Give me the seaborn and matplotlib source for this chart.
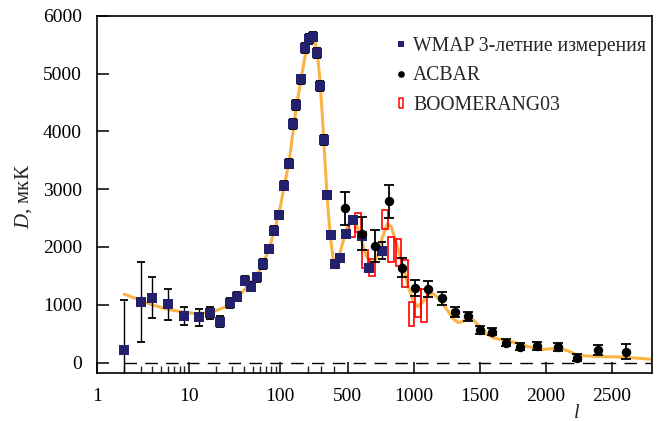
import numpy as np
import matplotlib
matplotlib.use('Agg')
import matplotlib.pyplot as plt
import seaborn as sns
from matplotlib.lines import Line2D
from matplotlib.ticker import FixedLocator, FixedFormatter

# ---------------- data ----------------
wmap_l = [2, 3, 4, 6, 9, 13, 17, 22, 28, 34, 41, 48, 56, 65, 75, 86, 97, 109, 124,
          138, 149, 168, 187, 205, 235, 268, 294, 318, 343, 375, 405, 438, 489, 540,
          608, 663, 758]
wmap_d = [220, 1045, 1125, 1010, 808, 785, 855, 710, 1027, 1142, 1419, 1315, 1477,
          1707, 1962, 2284, 2550, 3062, 3438, 4127, 4455, 4903, 5439, 5600, 5640,
          5353, 4787, 3853, 2901, 2209, 1707, 1806, 2226, 2469, 2192, 1644, 1935]
wmap_err = [870, 690, 360, 268, 160, 150, 105, 95, 90, 80, 80, 80, 80, 80, 70, 72,
            72, 75, 75, 80, 80, 80, 85, 85, 85, 85, 85, 85, 40, 40, 40, 40, 40, 40,
            50, 60, 145]

acbar_l = [482, 605, 705, 809, 911, 1008, 1106, 1211, 1309, 1408, 1498, 1595, 1696,
           1802, 1935, 2091, 2238, 2394, 2608]
acbar_d = [2671, 2230, 2019, 2790, 1644, 1287, 1270, 1114, 877, 800, 566, 536, 346,
           277, 289, 277, 87, 220, 190]
acbar_err = [285, 280, 280, 290, 170, 140, 140, 110, 80, 75, 65, 60, 60, 55, 70, 70,
             55, 90, 125]

boom_l = [535, 575, 632, 685, 783, 830, 884, 932, 982, 1034, 1080]
boom_d = [2334, 2430, 1797, 1647, 2480, 1958, 1904, 1540, 847, 1027, 985]
boom_err = [164, 165, 153, 147, 162, 212, 231, 236, 208, 243, 285]
boom_width = 44

theory_l = [2, 3, 4, 6, 9, 12, 15, 20, 25, 30, 40, 50, 60, 75, 90, 100, 110, 125,
            140, 150, 170, 190, 210, 230, 250, 270, 290, 310, 330, 350, 370, 390,
            410, 430, 460, 500, 530, 560, 600, 640, 680, 720, 760, 800, 830, 870,
            920, 960, 1000, 1030, 1070, 1110, 1150, 1200, 1250, 1300, 1340, 1400,
            1450, 1500, 1550, 1600, 1660, 1730, 1800, 1860, 1950, 2050, 2100, 2170,
            2230, 2300, 2400, 2500, 2600, 2700, 2790]
theory_d = [1183, 1080, 1000, 920, 870, 850, 855, 900, 960, 1040, 1250, 1420, 1600,
            1950, 2400, 2700, 3050, 3500, 4100, 4450, 4950, 5400, 5620, 5680, 5580,
            5350, 4900, 4200, 3400, 2700, 2150, 1800, 1720, 1800, 2050, 2380, 2500,
            2430, 2150, 1850, 1720, 1800, 2150, 2400, 2350, 2050, 1650, 1300, 1050,
            970, 1050, 1180, 1190, 1080, 920, 750, 690, 740, 740, 620, 500, 430, 400,
            370, 320, 280, 225, 240, 250, 200, 135, 115, 105, 100, 93, 75, 59]

zero_l = [2, 2800]
zero_d = [0, 0]

major_ticks = [1, 10, 100, 500, 1000, 1500, 2000, 2500]
major_labels = ['1', '10', '100', '500', '1000', '1500', '2000', '2500']
minor_ticks = [2, 3, 4, 5, 6, 7, 8, 9, 20, 30, 40, 50, 60, 70, 80, 90, 200, 300, 400]
y_ticks = [0, 1000, 2000, 3000, 4000, 5000, 6000]

# ---------------- style ----------------
sns.set_theme(style='ticks')
plt.rcParams['font.family'] = ['Liberation Serif', 'DejaVu Serif']
plt.rcParams['mathtext.fontset'] = 'custom'
plt.rcParams['mathtext.it'] = 'Liberation Serif:italic'
plt.rcParams['mathtext.rm'] = 'Liberation Serif'

NAVY = '#23206E'
ORANGE = '#F9B445'

# mixed log / linear l-axis
L_BREAK = 200.0
K_LIN = 0.1324 / 92.0


def fwd(l):
    l = np.asarray(l, dtype=float)
    lc = np.clip(l, 1e-3, None)
    return np.where(l <= L_BREAK, np.log10(lc),
                    np.log10(L_BREAK) + (l - L_BREAK) * K_LIN)


def inv(u):
    u = np.asarray(u, dtype=float)
    ub = np.log10(L_BREAK)
    return np.where(u <= ub, 10 ** np.minimum(u, ub), L_BREAK + (u - ub) / K_LIN)


fig = plt.figure(figsize=(6.59, 4.21), dpi=100)
ax = fig.add_axes([0.1467, 0.1133, 0.8423, 0.8494])
ax.set_xscale('function', functions=(fwd, inv))

# zero line
ax.plot(zero_l, zero_d, color='black', lw=1.0, dashes=(9, 6), zorder=1)

# theory curve
sns.lineplot(x=theory_l, y=theory_d, color=ORANGE, lw=2.2, ax=ax,
             estimator=None, sort=False, zorder=2)

# BOOMERANG boxes
ax.bar(boom_l, height=2 * np.array(boom_err), bottom=np.array(boom_d) - np.array(boom_err),
       width=boom_width, fill=False, edgecolor='#FF0000', linewidth=1.2, zorder=2.5)

# error bars
ax.errorbar(wmap_l, wmap_d, yerr=wmap_err, fmt='none', ecolor='black',
            elinewidth=1.0, capsize=3.2, capthick=1.3, zorder=3)
ax.errorbar(acbar_l, acbar_d, yerr=acbar_err, fmt='none', ecolor='black',
            elinewidth=1.3, capsize=3.4, capthick=1.3, zorder=3)

# markers
sns.scatterplot(x=wmap_l, y=wmap_d, marker='s', s=44, color=NAVY, linewidth=0,
                ax=ax, zorder=4)
sns.scatterplot(x=acbar_l, y=acbar_d, marker='o', s=46, color='black', linewidth=0,
                ax=ax, zorder=4)

ax.set_xlim(1, 2800)
ax.set_ylim(-185, 6000)

ax.xaxis.set_major_locator(FixedLocator(major_ticks))
ax.xaxis.set_major_formatter(FixedFormatter(major_labels))
ax.xaxis.set_minor_locator(FixedLocator(minor_ticks))
ax.yaxis.set_major_locator(FixedLocator(y_ticks))
ax.yaxis.set_minor_locator(FixedLocator([]))

ax.tick_params(axis='x', which='major', direction='in', length=7.7, width=1.1,
               labelsize=14, pad=10.5, top=False, colors='black')
ax.tick_params(axis='x', which='minor', direction='in', length=5, width=1.0,
               top=False)
ax.tick_params(axis='y', which='major', direction='in', length=8.4, width=1.1,
               labelsize=14, pad=10.5, right=False, colors='black')
for sp in ax.spines.values():
    sp.set_visible(True)
    sp.set_linewidth(1.2)
    sp.set_color('black')

ax.set_xlabel('')
ax.set_ylabel('')
fig.text(24 / 659, 1 - 196 / 421, '$D$, мкК', rotation=90, ha='center', va='center',
         fontsize=15)
fig.text(577 / 659, 1 - 413 / 421, 'l', style='italic', ha='center', va='center',
         fontsize=14.5)

# legend
boom_marker = [(-0.4, -1), (0.4, -1), (0.4, 1), (-0.4, 1), (-0.4, -1)]
handles = [
    Line2D([], [], ls='none', marker='s', markersize=4.5, color=NAVY, markeredgewidth=0),
    Line2D([], [], ls='none', marker='o', markersize=4.8, color='black', markeredgewidth=0),
    Line2D([], [], ls='none', marker=boom_marker, markersize=7, markerfacecolor='none',
           markeredgecolor='#FF0000', markeredgewidth=1.1),
]
labels = ['WMAP 3-летние измерения', 'ACBAR', 'BOOMERANG03']
fig.legend(handles, labels, loc='upper left', bbox_to_anchor=(396 / 659, 1 - 37 / 421),
           frameon=False, fontsize=14.2, handlelength=0.55, handletextpad=0.32,
           labelspacing=0.53, borderpad=0, borderaxespad=0)

fig.savefig('out.png', dpi=100)
